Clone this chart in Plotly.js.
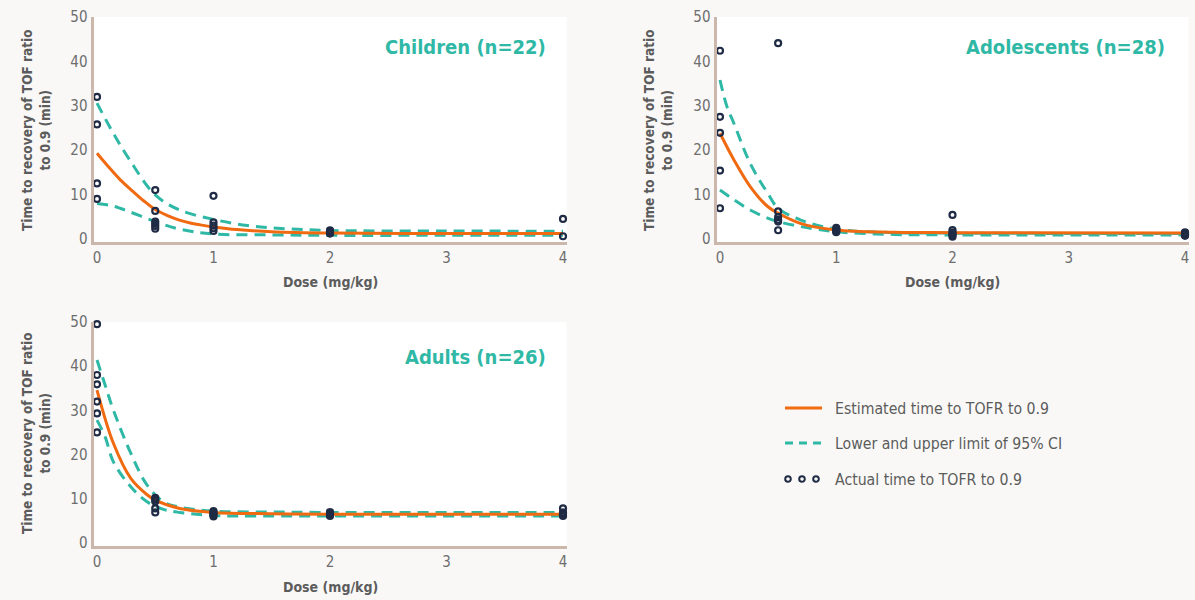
<!DOCTYPE html>
<html>
<head>
<meta charset="utf-8">
<script src="https://cdn.plot.ly/plotly-3.0.1.min.js"></script>
<style>
html,body{margin:0;padding:0;background:#f9f8f6;}
#chart{width:1195px;height:600px;}
</style>
</head>
<body>
<div id="chart"></div>
<script>
// ---------- DATA ----------
var panelTitles = ["Children (n=22)", "Adolescents (n=28)", "Adults (n=26)"];
var xTickVals = [0, 1, 2, 3, 4];
var yTickVals = [0, 10, 20, 30, 40, 50];

// Children
var childObsX = [0, 0, 0, 0, 0.5, 0.5, 0.5, 0.5, 0.5, 0.5, 1, 1, 1, 1, 1, 2, 2, 2, 2, 2, 4, 4];
var childObsY = [32.0, 25.8, 12.5, 9.0, 11.0, 6.3, 3.9, 3.4, 2.9, 2.3, 9.7, 3.7, 3.0, 2.4, 1.8, 1.9, 1.7, 1.5, 1.3, 1.2, 4.5, 0.6];
var childEstX = [0, 0.1, 0.2, 0.3, 0.4, 0.5, 0.6, 0.7, 0.8, 0.9, 1.0, 1.2, 1.5, 2, 3, 4];
var childEstY = [19.3, 16.2, 13.3, 10.9, 8.6, 6.6, 5.3, 4.3, 3.6, 3.1, 2.7, 2.1, 1.6, 1.3, 1.2, 1.2];
var childUpX = [0, 0.14, 0.28, 0.5, 0.71, 1.0, 1.29, 1.55, 2, 3, 4];
var childUpY = [30.6, 23.8, 17.8, 9.9, 6.5, 4.4, 3.0, 2.4, 1.9, 1.8, 1.7];
var childLoX = [0, 0.14, 0.28, 0.5, 0.71, 1.0, 1.5, 2, 3, 4];
var childLoY = [8.0, 7.4, 6.1, 3.9, 2.2, 1.1, 0.9, 0.8, 0.8, 0.8];

// Adolescents
var adolObsX = [0, 0, 0, 0, 0, 0.5, 0.5, 0.5, 0.5, 0.5, 0.5, 1, 1, 1, 1, 1, 2, 2, 2, 2, 2, 2, 4, 4, 4, 4, 4, 4];
var adolObsY = [42.4, 27.5, 23.9, 15.4, 6.9, 44.1, 6.2, 4.9, 4.3, 3.9, 1.95, 2.5, 2.2, 1.9, 1.7, 1.5, 5.4, 2.0, 1.5, 1.1, 0.8, 0.5, 1.5, 1.3, 1.1, 1.0, 0.9, 0.7];
var adolEstX = [0, 0.12, 0.26, 0.41, 0.5, 0.69, 1.0, 1.5, 2, 4];
var adolEstY = [23.8, 17.8, 11.8, 7.3, 5.8, 3.5, 2.0, 1.5, 1.4, 1.3];
var adolUpX = [0, 0.06, 0.12, 0.26, 0.41, 0.5, 0.69, 1.0, 1.5, 2, 4];
var adolUpY = [35.8, 29.8, 26.0, 17.0, 10.3, 6.9, 4.3, 2.2, 1.4, 1.3, 1.2];
var adolLoX = [0, 0.12, 0.26, 0.41, 0.5, 0.69, 1.0, 1.5, 2, 4];
var adolLoY = [11.0, 8.8, 6.5, 4.7, 3.9, 2.8, 1.6, 1.0, 0.9, 0.9];

// Adults
var adultObsX = [0, 0, 0, 0, 0, 0, 0.5, 0.5, 0.5, 0.5, 0.5, 1, 1, 1, 1, 1, 2, 2, 2, 2, 2, 4, 4, 4, 4, 4];
var adultObsY = [49.5, 38.0, 35.9, 32.0, 29.3, 25.0, 10.2, 9.8, 9.4, 7.8, 6.9, 7.2, 6.9, 6.6, 6.3, 6.0, 7.0, 6.7, 6.5, 6.3, 6.1, 7.8, 6.9, 6.6, 6.3, 6.1];
var adultEstX = [0, 0.14, 0.29, 0.43, 0.5, 0.71, 1.0, 1.5, 2, 4];
var adultEstY = [34.6, 22.6, 14.6, 10.9, 9.7, 7.8, 6.9, 6.6, 6.5, 6.5];
var adultUpX = [0, 0.07, 0.14, 0.29, 0.43, 0.57, 0.71, 1.0, 1.5, 2, 4];
var adultUpY = [41.4, 35.7, 30.1, 20.3, 13.1, 9.3, 8.1, 7.2, 7.0, 6.9, 6.9];
var adultLoX = [0, 0.07, 0.14, 0.29, 0.43, 0.57, 0.71, 1.0, 1.5, 4];
var adultLoY = [27.8, 24.0, 18.4, 12.7, 9.3, 7.6, 6.9, 6.2, 6.1, 6.1];

var legendLabels = ["Estimated time to TOFR to 0.9", "Lower and upper limit of 95% CI", "Actual time to TOFR to 0.9"];
var xTitle = "Dose (mg/kg)";
var yTitle = "Time to recovery of TOF ratio<br>to 0.9 (min)";

// ---------- STYLE ----------
var W = 1195, H = 600;
var ORANGE = "#f06a12", TEAL = "#2fb8a5", NAVY = "#1f2b45", AXIS = "#cbb7ab", TXT = "#5c5c5c";
var FONT = "DejaVu Sans Condensed, DejaVu Sans, sans-serif";
function px(x){return x/W;}
function py(y){return 1 - y/H;}

var panels = [
  {obsX: childObsX, obsY: childObsY, estX: childEstX, estY: childEstY, upX: childUpX, upY: childUpY, loX: childLoX, loY: childLoY},
  {obsX: adolObsX, obsY: adolObsY, estX: adolEstX, estY: adolEstY, upX: adolUpX, upY: adolUpY, loX: adolLoX, loY: adolLoY},
  {obsX: adultObsX, obsY: adultObsY, estX: adultEstX, estY: adultEstY, upX: adultUpX, upY: adultUpY, loX: adultLoX, loY: adultLoY}
];
// pixel boxes: [left, right, top, bottom]
var boxes = [[93.5, 566.5, 17, 242], [716.5, 1188.5, 17, 242], [93.5, 566.5, 322, 546]];
var titlePos = [[548, 47], [1167, 47], [548, 357]];
var xTitlePos = [[330, 282], [952, 282], [330, 587]];
var yTitlePos = [[36, 130], [658, 130], [36, 433]];

var traces = [];
var layout = {
  width: W, height: H,
  margin: {l: 0, r: 0, t: 0, b: 0},
  paper_bgcolor: "#f9f8f6",
  plot_bgcolor: "#ffffff",
  showlegend: false,
  hovermode: false,
  font: {family: FONT, color: TXT},
  annotations: [],
  shapes: []
};

panels.forEach(function(p, i){
  var n = i === 0 ? "" : String(i + 1);
  var xa = "x" + n, ya = "y" + n;
  var b = boxes[i];
  layout["xaxis" + n] = {
    domain: [px(b[0]), px(b[1])], anchor: ya,
    range: [-0.03, 4.03], tickvals: xTickVals, showgrid: false, zeroline: false,
    showline: true, linecolor: AXIS, linewidth: 3, ticks: "",
    tickfont: {size: 15, color: "#6e6e6e", family: FONT}, fixedrange: true
  };
  layout["yaxis" + n] = {
    domain: [py(b[3]), py(b[2])], anchor: xa,
    range: [-0.7, 50], tickvals: yTickVals, showgrid: false, zeroline: false,
    showline: true, linecolor: AXIS, linewidth: 3, ticks: "",
    tickfont: {size: 15, color: "#6e6e6e", family: FONT}, fixedrange: true
  };
  traces.push({x: p.upX, y: p.upY, xaxis: xa, yaxis: ya, mode: "lines", type: "scatter",
    line: {color: TEAL, width: 3, dash: "11px,7px", shape: "spline", smoothing: 1}});
  traces.push({x: p.loX, y: p.loY, xaxis: xa, yaxis: ya, mode: "lines", type: "scatter",
    line: {color: TEAL, width: 3, dash: "11px,7px", shape: "spline", smoothing: 1}});
  traces.push({x: p.estX, y: p.estY, xaxis: xa, yaxis: ya, mode: "lines", type: "scatter",
    line: {color: ORANGE, width: 3, shape: "spline", smoothing: 1}});
  traces.push({x: p.obsX, y: p.obsY, xaxis: xa, yaxis: ya, mode: "markers", type: "scatter", cliponaxis: false,
    marker: {symbol: "circle-open", size: 6, color: NAVY, line: {color: NAVY, width: 2.2}}});

  layout.annotations.push({text: panelTitles[i], xref: "paper", yref: "paper",
    x: px(titlePos[i][0]), y: py(titlePos[i][1]), xanchor: "right", yanchor: "middle", showarrow: false,
    font: {size: 20, color: TEAL, family: FONT, weight: "bold"}});
  layout.annotations.push({text: xTitle, xref: "paper", yref: "paper",
    x: px(xTitlePos[i][0]), y: py(xTitlePos[i][1]), xanchor: "center", yanchor: "middle", showarrow: false,
    font: {size: 14, color: TXT, family: FONT, weight: "bold"}});
  layout.annotations.push({text: yTitle, xref: "paper", yref: "paper", textangle: -90,
    x: px(yTitlePos[i][0]), y: py(yTitlePos[i][1]), xanchor: "center", yanchor: "middle", showarrow: false,
    font: {size: 13.5, color: TXT, family: FONT, weight: "bold"}});
});

// manual legend
var legY = [408, 443, 479];
layout.shapes.push({type: "line", xref: "paper", yref: "paper", x0: px(785), x1: px(822), y0: py(legY[0]), y1: py(legY[0]),
  line: {color: ORANGE, width: 3}});
layout.shapes.push({type: "line", xref: "paper", yref: "paper", x0: px(785), x1: px(822), y0: py(legY[1]), y1: py(legY[1]),
  line: {color: TEAL, width: 3, dash: "8px,6px"}});
[788, 802, 816].forEach(function(cx){
  layout.shapes.push({type: "circle", xref: "paper", yref: "paper",
    x0: px(cx - 2.8), x1: px(cx + 2.8), y0: py(legY[2] + 2.8), y1: py(legY[2] - 2.8),
    line: {color: NAVY, width: 2}, fillcolor: "rgba(0,0,0,0)"});
});
legendLabels.forEach(function(t, k){
  layout.annotations.push({text: t, xref: "paper", yref: "paper", x: px(833), y: py(legY[k]),
    xanchor: "left", yanchor: "middle", showarrow: false, font: {size: 15.7, color: TXT, family: FONT}});
});

Plotly.newPlot("chart", traces, layout, {displayModeBar: false, staticPlot: true});
</script>
</body>
</html>
